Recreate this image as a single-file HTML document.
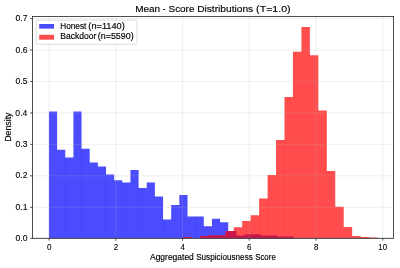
<!DOCTYPE html>
<html><head><meta charset="utf-8"><style>
html,body{margin:0;padding:0;background:#fff;}
svg{display:block;}
text{font-family:"Liberation Sans",sans-serif;fill:#000;stroke:#000;stroke-width:0.15px;}
.tl text{stroke-width:0.1px;}
.t{opacity:0.999;will-change:transform;}
</style></head><body>
<svg class="t" width="400" height="268" viewBox="0 0 400 268">
<rect x="0" y="0" width="400" height="268" fill="#fff"/>
<g fill="#0000ff" fill-opacity="0.7">
<path d="M48.95,238.30 L48.95,111.40 L57.10,111.40 L57.10,149.80 L65.25,149.80 L65.25,157.50 L73.40,157.50 L73.40,111.40 L81.55,111.40 L81.55,148.80 L89.70,148.80 L89.70,162.40 L97.85,162.40 L97.85,166.60 L106.00,166.60 L106.00,174.50 L114.15,174.50 L114.15,180.30 L122.30,180.30 L122.30,182.40 L130.45,182.40 L130.45,170.00 L138.60,170.00 L138.60,188.10 L146.75,188.10 L146.75,182.50 L154.90,182.50 L154.90,196.40 L163.05,196.40 L163.05,219.40 L171.20,219.40 L171.20,205.10 L179.35,205.10 L179.35,195.10 L187.50,195.10 L187.50,216.40 L195.65,216.40 L195.65,216.50 L203.80,216.50 L203.80,226.30 L211.95,226.30 L211.95,218.70 L220.10,218.70 L220.10,222.30 L228.25,222.30 L228.25,231.00 L236.40,231.00 L236.40,235.50 L244.55,235.50 L244.55,234.30 L252.70,234.30 L252.70,234.30 L260.85,234.30 L260.85,235.50 L269.00,235.50 L269.00,235.50 L277.15,235.50 L277.15,236.50 L285.30,236.50 L285.30,236.50 L293.45,236.50 L293.45,238.30 Z"/>
</g>
<g fill="#ff0000" fill-opacity="0.7">
<path d="M183.00,238.30 L183.00,237.10 L191.46,237.10 L191.46,238.30 L199.92,238.30 L199.92,235.90 L208.38,235.90 L208.38,235.30 L216.83,235.30 L216.83,235.30 L225.29,235.30 L225.29,231.10 L233.75,231.10 L233.75,227.20 L242.21,227.20 L242.21,221.10 L250.67,221.10 L250.67,215.30 L259.13,215.30 L259.13,198.40 L267.59,198.40 L267.59,175.00 L276.05,175.00 L276.05,140.10 L284.50,140.10 L284.50,96.90 L292.96,96.90 L292.96,51.70 L301.42,51.70 L301.42,27.00 L309.88,27.00 L309.88,55.30 L318.34,55.30 L318.34,110.40 L326.80,110.40 L326.80,170.90 L335.26,170.90 L335.26,206.80 L343.72,206.80 L343.72,226.90 L352.17,226.90 L352.17,236.00 L360.63,236.00 L360.63,237.00 L369.09,237.00 L369.09,237.50 L377.55,237.50 L377.55,238.30 Z"/>
</g>
<g fill="#0000ff" fill-opacity="0.7">
<rect x="65.19" y="157.50" width="0.12" height="80.80"/>
<rect x="81.49" y="148.80" width="0.12" height="89.50"/>
<rect x="105.94" y="174.50" width="0.12" height="63.80"/>
<rect x="122.24" y="182.40" width="0.12" height="55.90"/>
<rect x="138.54" y="188.10" width="0.12" height="50.20"/>
<rect x="162.99" y="219.40" width="0.12" height="18.90"/>
<rect x="195.59" y="216.50" width="0.12" height="21.80"/>
</g>
<g fill="#ff0000" fill-opacity="0.7">
<rect x="259.07" y="215.30" width="0.12" height="23.00"/>
<rect x="267.53" y="198.40" width="0.12" height="39.90"/>
<rect x="284.44" y="140.10" width="0.12" height="98.20"/>
<rect x="309.82" y="55.30" width="0.12" height="183.00"/>
</g>
<g stroke="#b0b0b0" stroke-opacity="0.3" stroke-width="0.7">
<line x1="49.05" y1="16.4" x2="49.05" y2="238.3"/>
<line x1="115.79" y1="16.4" x2="115.79" y2="238.3"/>
<line x1="182.53" y1="16.4" x2="182.53" y2="238.3"/>
<line x1="249.27" y1="16.4" x2="249.27" y2="238.3"/>
<line x1="316.01" y1="16.4" x2="316.01" y2="238.3"/>
<line x1="382.75" y1="16.4" x2="382.75" y2="238.3"/>
<line x1="32.4" y1="238.30" x2="393.6" y2="238.30"/>
<line x1="32.4" y1="207.30" x2="393.6" y2="207.30"/>
<line x1="32.4" y1="175.85" x2="393.6" y2="175.85"/>
<line x1="32.4" y1="144.40" x2="393.6" y2="144.40"/>
<line x1="32.4" y1="112.95" x2="393.6" y2="112.95"/>
<line x1="32.4" y1="81.50" x2="393.6" y2="81.50"/>
<line x1="32.4" y1="50.05" x2="393.6" y2="50.05"/>
<line x1="32.4" y1="18.60" x2="393.6" y2="18.60"/>
</g>
<g stroke="#222" stroke-width="0.75">
<line x1="49.05" y1="238.3" x2="49.05" y2="240.70"/>
<line x1="115.79" y1="238.3" x2="115.79" y2="240.70"/>
<line x1="182.53" y1="238.3" x2="182.53" y2="240.70"/>
<line x1="249.27" y1="238.3" x2="249.27" y2="240.70"/>
<line x1="316.01" y1="238.3" x2="316.01" y2="240.70"/>
<line x1="382.75" y1="238.3" x2="382.75" y2="240.70"/>
<line x1="30.00" y1="238.30" x2="32.4" y2="238.30"/>
<line x1="30.00" y1="207.30" x2="32.4" y2="207.30"/>
<line x1="30.00" y1="175.85" x2="32.4" y2="175.85"/>
<line x1="30.00" y1="144.40" x2="32.4" y2="144.40"/>
<line x1="30.00" y1="112.95" x2="32.4" y2="112.95"/>
<line x1="30.00" y1="81.50" x2="32.4" y2="81.50"/>
<line x1="30.00" y1="50.05" x2="32.4" y2="50.05"/>
<line x1="30.00" y1="18.60" x2="32.4" y2="18.60"/>
</g>
<rect x="32.4" y="16.4" width="361.20" height="221.90" fill="none" stroke="#222" stroke-width="0.8"/>
<g class="tl">
<text x="46.92" y="249.6" font-size="8.2" textLength="4.47" lengthAdjust="spacingAndGlyphs">0</text>
<text x="113.66" y="249.6" font-size="8.2" textLength="4.47" lengthAdjust="spacingAndGlyphs">2</text>
<text x="180.42" y="249.6" font-size="8.2" textLength="4.47" lengthAdjust="spacingAndGlyphs">4</text>
<text x="247.11" y="249.6" font-size="8.2" textLength="4.47" lengthAdjust="spacingAndGlyphs">6</text>
<text x="313.88" y="249.6" font-size="8.2" textLength="4.47" lengthAdjust="spacingAndGlyphs">8</text>
<text x="378.23" y="249.6" font-size="8.2" textLength="8.94" lengthAdjust="spacingAndGlyphs">10</text>
<text x="15.47" y="241.35" font-size="8.2" textLength="11.97" lengthAdjust="spacingAndGlyphs">0.0</text>
<text x="15.55" y="209.9" font-size="8.2" textLength="11.97" lengthAdjust="spacingAndGlyphs">0.1</text>
<text x="15.56" y="178.45" font-size="8.2" textLength="11.97" lengthAdjust="spacingAndGlyphs">0.2</text>
<text x="15.51" y="147.0" font-size="8.2" textLength="11.97" lengthAdjust="spacingAndGlyphs">0.3</text>
<text x="15.38" y="115.55" font-size="8.2" textLength="11.97" lengthAdjust="spacingAndGlyphs">0.4</text>
<text x="15.49" y="84.1" font-size="8.2" textLength="11.97" lengthAdjust="spacingAndGlyphs">0.5</text>
<text x="15.51" y="52.65" font-size="8.2" textLength="11.97" lengthAdjust="spacingAndGlyphs">0.6</text>
<text x="15.56" y="21.2" font-size="8.2" textLength="11.97" lengthAdjust="spacingAndGlyphs">0.7</text>
</g>
<text x="135.18" y="11.7" font-size="9.5" textLength="24.97" lengthAdjust="spacingAndGlyphs">Mean</text>
<text x="162.84" y="11.7" font-size="9.5" textLength="2.73" lengthAdjust="spacingAndGlyphs">-</text>
<text x="168.55" y="11.7" font-size="9.5" textLength="25.89" lengthAdjust="spacingAndGlyphs">Score</text>
<text x="197.17" y="11.7" font-size="9.5" textLength="56.0" lengthAdjust="spacingAndGlyphs">Distributions</text>
<text x="256.14" y="11.7" font-size="9.5" textLength="34.52" lengthAdjust="spacingAndGlyphs">(T=1.0)</text>
<text x="149.98" y="259.6" font-size="8.3" textLength="43.86" lengthAdjust="spacingAndGlyphs">Aggregated</text>
<text x="196.13" y="259.6" font-size="8.3" textLength="56.67" lengthAdjust="spacingAndGlyphs">Suspiciousness</text>
<text x="255.14" y="259.6" font-size="8.3" textLength="20.71" lengthAdjust="spacingAndGlyphs">Score</text>
<g transform="translate(11.0,0) rotate(-90)"><text x="-141.82" y="0" font-size="8.3" textLength="29.34" lengthAdjust="spacingAndGlyphs">Density</text></g>
<rect x="36.1" y="20.1" width="100.9" height="24.1" rx="1.5" fill="#fff" fill-opacity="0.8" stroke="#d0d0d0" stroke-width="0.7"/>
<rect x="39.2" y="24.0" width="14.8" height="4.65" fill="#0000ff" fill-opacity="0.7"/>
<rect x="39.2" y="34.8" width="14.8" height="4.9" fill="#ff0000" fill-opacity="0.7"/>
<text x="60.22" y="29.1" font-size="8.3" textLength="26.09" lengthAdjust="spacingAndGlyphs">Honest</text>
<text x="88.34" y="29.1" font-size="8.3" textLength="36.42" lengthAdjust="spacingAndGlyphs">(n=1140)</text>
<text x="60.2" y="39.4" font-size="8.3" textLength="36.2" lengthAdjust="spacingAndGlyphs">Backdoor</text>
<text x="97.8" y="39.4" font-size="8.3" textLength="35.85" lengthAdjust="spacingAndGlyphs">(n=5590)</text>
</svg>
</body></html>
